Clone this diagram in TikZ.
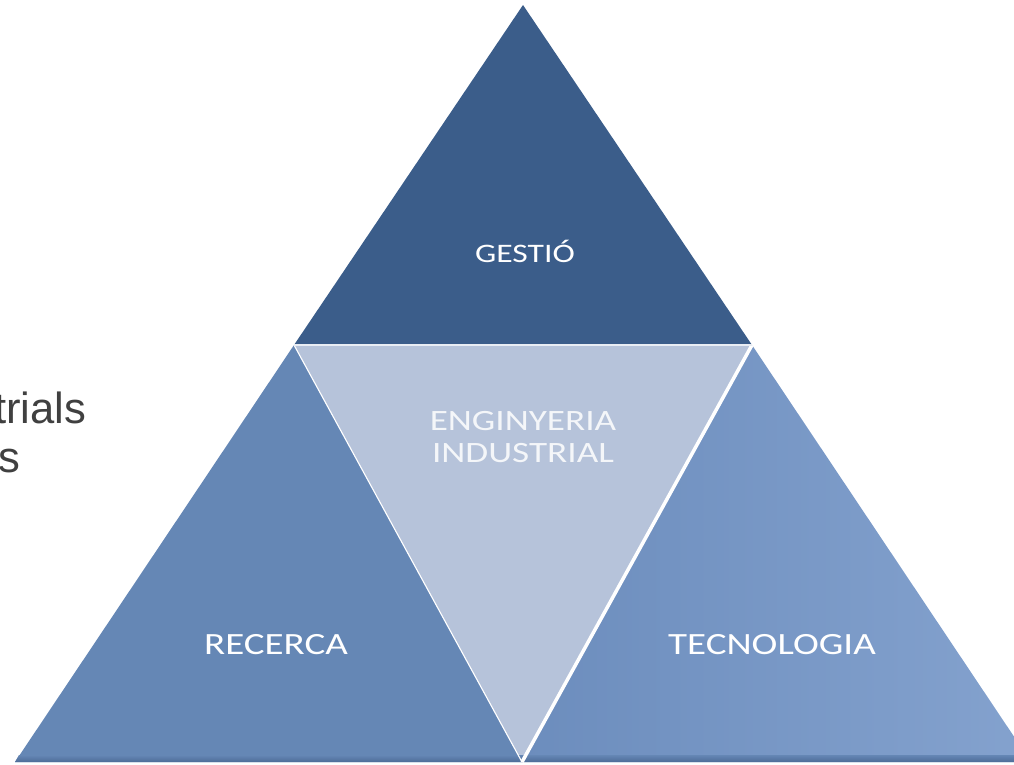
\documentclass[tikz,border=0pt]{standalone}
\usepackage{fontspec}
\setmainfont{Carlito}
\newfontfamily\labelfont[FakeStretch=1.26]{Carlito}
\newfontfamily\arialfont{Liberation Sans}
\definecolor{gestioblue}{RGB}{59,93,138}
\definecolor{leftblue}{RGB}{101,135,181}
\definecolor{rightblue}{RGB}{108,141,189}
\definecolor{rightlight}{RGB}{132,162,206}
\definecolor{centreblue}{RGB}{182,195,218}
\definecolor{baseblue}{RGB}{78,108,152}
\definecolor{sidegray}{RGB}{64,64,64}
\tikzset{
	label/.style = {text = white, font = \labelfont\fontsize{22}{23}\selectfont, align = center},
	side/.style = {text = sidegray, font = \arialfont\fontsize{31}{35}\selectfont, anchor = base west, inner sep = 0}
}
\begin{document}
\begin{tikzpicture}[x=0.025cm, y=-0.025cm]
		\useasboundingbox (0, 0) rectangle (1014, 764);
		\clip (0, 0) rectangle (1014, 764);
		% corners
		\coordinate (apex) at (523, 5);
		\coordinate (bl) at (15, 762);
		\coordinate (br) at (1031, 762);
		\coordinate (ml) at (294, 345);
		\coordinate (mr) at (752, 345);
		\coordinate (bm) at (522, 762);
		% four triangles
		\fill[gestioblue] (apex) -- (mr) -- (ml) -- cycle;
		\fill[leftblue] (ml) -- (bm) -- (bl) -- cycle;
		\shade[left color = rightblue, right color = rightlight] (mr) -- (br) -- (bm) -- cycle;
		\fill[centreblue] (ml) -- (mr) -- (bm) -- cycle;
		% bevels
		\shade[top color = leftblue, bottom color = baseblue] (bl) ++(4, -7) -- ++(1016, 0) -- (br) -- (bl) -- cycle;
		\draw[white, line width = 0.8pt] (ml) -- (bm);
		\draw[white, line width = 2.5pt] (mr) -- (bm);
		\draw[white!70!centreblue, line width = 0.8pt] (ml) -- (mr);
		% labels
		\node[label, font = \labelfont\fontsize{19}{23}\selectfont] (gestio) at (525, 251) {GESTIÓ};
		\node[label, text = white!85!centreblue, font = \labelfont\fontsize{21}{23}\selectfont] (enginyeria) at (523, 437) {ENGINYERIA\\INDUSTRIAL};
		\node[label] (recerca) at (276, 645) {RECERCA};
		\node[label] (tecnologia) at (772, 645) {TECNOLOGIA};
		\node[side] (trials) at (-6, 423) {trials};
		\node[side] (ess) at (-2, 472) {s};
	\end{tikzpicture}
\end{document}
